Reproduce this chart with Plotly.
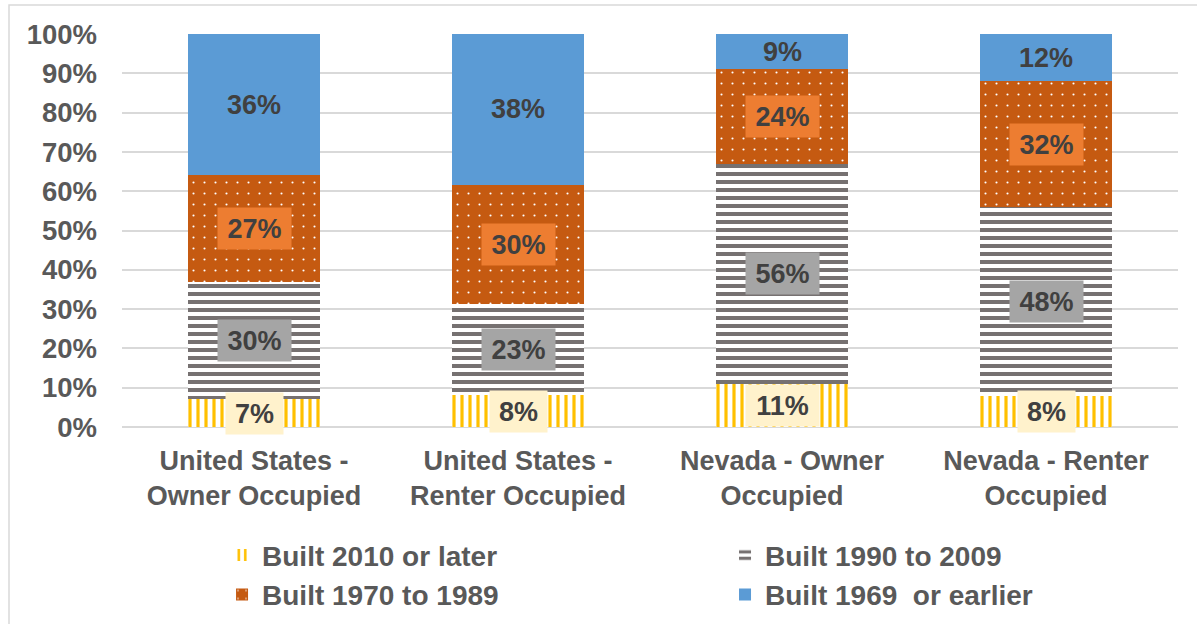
import plotly.graph_objects as go

categories = [
    "United States -<br>Owner Occupied",
    "United States -<br>Renter Occupied",
    "Nevada - Owner<br>Occupied",
    "Nevada - Renter<br>Occupied",
]
series_names = ["Built 2010 or later", "Built 1990 to 2009", "Built 1970 to 1989", "Built 1969  or earlier"]
built_2010_later = [7, 8, 11, 8]
built_1990_2009 = [30, 23, 56, 48]
built_1970_1989 = [27, 30, 24, 32]
built_1969_earlier = [36, 38, 9, 12]
y_tick_values = [0, 10, 20, 30, 40, 50, 60, 70, 80, 90, 100]
y_tick_labels = [f"{v}%" for v in y_tick_values]

series_values = [built_2010_later, built_1990_2009, built_1970_1989, built_1969_earlier]

FONT = "Arial, Liberation Sans, sans-serif"
TXT = "#595959"

styles = [
    dict(color="#FFC000", pattern=dict(shape="|", fgcolor="#FFC000", bgcolor="white", size=8, solidity=0.4, fillmode="replace"),
         box="#FFF2CC", legend="legend"),
    dict(color="#767171", pattern=dict(shape="-", fgcolor="#767171", bgcolor="white", size=8, solidity=0.5, fillmode="replace"),
         box="#A5A5A5", legend="legend2"),
    dict(color="#C55A11", pattern=dict(shape=".", fgcolor="white", bgcolor="#C55A11", size=11, solidity=0.03, fillmode="replace"),
         box="#ED7D31", legend="legend"),
    dict(color="#5B9BD5", pattern=None, box=None, legend="legend2"),
]

fig = go.Figure()
for name, vals, st in zip(series_names, series_values, styles):
    marker = dict(color=st["color"], line=dict(width=0))
    if st["pattern"]:
        marker["pattern"] = st["pattern"]
    fig.add_trace(go.Bar(
        x=categories, y=vals, name=name, marker=marker,
        legend=st["legend"], legendgroup=name, hoverinfo="skip",
    ))

# data labels (boxes) at segment centres, normalised to 100%
totals = [sum(v[i] for v in series_values) for i in range(len(categories))]
annotations = []
for i, cat in enumerate(categories):
    cum = 0.0
    for vals, st in zip(series_values, styles):
        v = vals[i]
        pct = 100.0 * v / totals[i]
        mid = cum + pct / 2
        cum += pct
        label = f"{v}%"
        ann = dict(x=cat, y=mid, xref="x", yref="y", text=label, showarrow=False,
                   font=dict(family=FONT, size=27, color="#404040", weight="bold"))
        if st["box"]:
            ann.update(bgcolor=st["box"], width=55 if len(label) == 2 else 71, height=39, borderpad=1)
        annotations.append(ann)

legend_font = dict(family=FONT, size=28, color=TXT, weight="bold")
fig.update_layout(
    width=1197, height=624,
    margin=dict(l=122, r=19, t=34, b=197, autoexpand=False),
    barmode="stack", barnorm="percent", bargap=0.5,
    plot_bgcolor="white", paper_bgcolor="white",
    font=dict(family=FONT, color=TXT),
    annotations=annotations,
    legend=dict(xref="container", yref="container", x=0.1855, xanchor="left", y=0.150, yanchor="top",
                orientation="v", traceorder="normal", tracegroupgap=11,
                font=legend_font, bgcolor="rgba(0,0,0,0)"),
    legend2=dict(xref="container", yref="container", x=0.6057, xanchor="left", y=0.150, yanchor="top",
                 orientation="v", traceorder="normal", tracegroupgap=11,
                 font=legend_font, bgcolor="rgba(0,0,0,0)"),
    shapes=[dict(type="rect", xref="paper", yref="paper", x0=-0.107, x1=1.1, y0=-0.6, y1=1.0738,
                 line=dict(color="#D9D9D9", width=1.5), fillcolor="rgba(0,0,0,0)", layer="below")],
)
fig.update_xaxes(showgrid=False, showline=False, ticks="",
                 tickfont=dict(family=FONT, size=27, color=TXT, weight="bold"), ticklabelstandoff=15)
fig.update_yaxes(range=[0, 100], tickvals=y_tick_values, ticktext=y_tick_labels,
                 showgrid=True, gridcolor="#D9D9D9", gridwidth=1.5,
                 zeroline=True, zerolinecolor="#D9D9D9", zerolinewidth=1.5,
                 showline=False, ticks="", ticklabelstandoff=24,
                 tickfont=dict(family=FONT, size=27.5, color=TXT, weight="bold"))

fig.write_html("out.html", config={"displayModeBar": False},
               post_script="document.body.style.margin='0px';")
